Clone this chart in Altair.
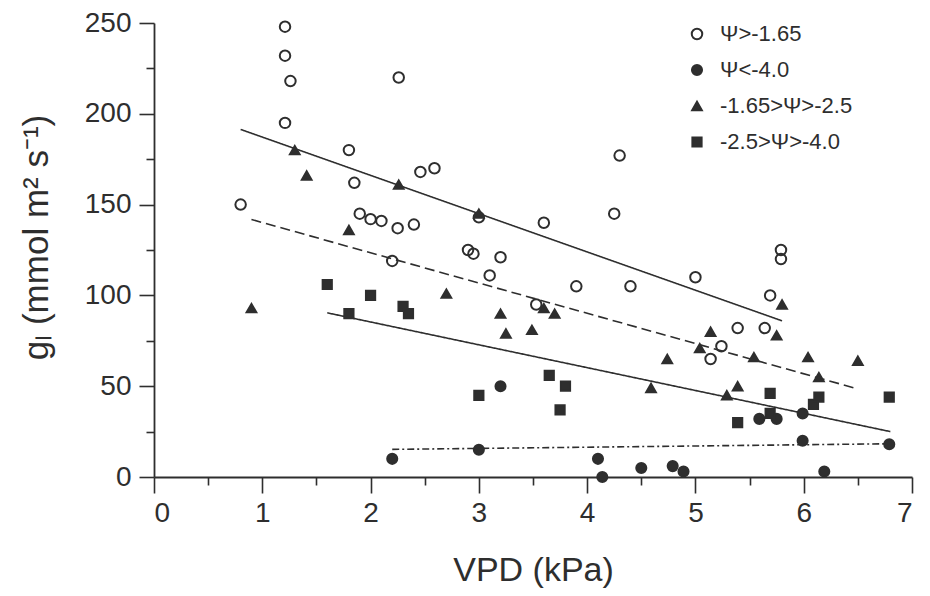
import altair as alt
import pandas as pd

# ---- data ----
groups = ["Ψ>-1.65", "Ψ<-4.0", "-1.65>Ψ>-2.5", "-2.5>Ψ>-4.0"]

open_x = [0.8, 1.21, 1.21, 1.26, 1.21, 1.8, 1.85, 1.9, 2.0, 2.1, 2.25, 2.4, 2.2, 2.26,
          2.46, 2.59, 2.9, 2.95, 3.0, 3.1, 3.2, 3.53, 3.6, 3.9, 4.25, 4.3, 4.4, 5.0,
          5.14, 5.24, 5.39, 5.64, 5.69, 5.79, 5.79]
open_y = [150, 248, 232, 218, 195, 180, 162, 145, 142, 141, 137, 139, 119, 220,
          168, 170, 125, 123, 143, 111, 121, 95, 140, 105, 145, 177, 105, 110,
          65, 72, 82, 82, 100, 125, 120]

fcirc_x = [2.2, 3.0, 3.2, 4.1, 4.14, 4.5, 4.79, 4.89, 5.59, 5.75, 5.99, 5.99, 6.19, 6.79]
fcirc_y = [10, 15, 50, 10, 0, 5, 6, 3, 32, 32, 35, 20, 3, 18]

tri_x = [0.9, 1.3, 1.41, 1.8, 2.26, 2.7, 3.0, 3.2, 3.25, 3.49, 3.6, 3.7, 4.59, 4.74,
         5.04, 5.14, 5.29, 5.39, 5.54, 5.75, 5.8, 6.04, 6.14, 6.5]
tri_y = [93, 180, 166, 136, 161, 101, 145, 90, 79, 81, 93, 90, 49, 65,
         71, 80, 45, 50, 66, 78, 95, 66, 55, 64]

sq_x = [1.6, 1.8, 2.0, 2.3, 2.35, 3.0, 3.65, 3.75, 3.8, 5.39, 5.69, 5.69, 6.09, 6.14, 6.79]
sq_y = [106, 90, 100, 94, 90, 45, 56, 37, 50, 30, 46, 35, 40, 44, 44]

# fitted lines (start and end points)
line_ids = ["open", "tri", "sq", "fcirc"]
line_x0 = [0.8, 0.9, 1.6, 2.2]
line_y0 = [191.4, 141.8, 90.4, 15.2]
line_x1 = [5.8, 6.5, 6.8, 6.8]
line_y1 = [86.0, 48.5, 25.0, 18.3]

x_major = [0, 1, 2, 3, 4, 5, 6, 7]
x_minor = [0.5, 1.5, 2.5, 3.5, 4.5, 5.5, 6.5]
y_major = [0, 50, 100, 150, 200, 250]
y_minor = [25, 75, 125, 175, 225]

# ---- tables ----
rows = []
for g, xs, ys in zip(groups, [open_x, fcirc_x, tri_x, sq_x], [open_y, fcirc_y, tri_y, sq_y]):
    for a, b in zip(xs, ys):
        rows.append({"vpd": a, "gl": b, "group": g})
pts = pd.DataFrame(rows)

lrows = []
for i, lid in enumerate(line_ids):
    lrows.append({"vpd": line_x0[i], "gl": line_y0[i], "line": lid})
    lrows.append({"vpd": line_x1[i], "gl": line_y1[i], "line": lid})
lines = pd.DataFrame(lrows)

INK = "#2e2e2e"
FONT = "Liberation Sans"

xscale = alt.Scale(domain=[0, 7], nice=False, zero=False)
yscale = alt.Scale(domain=[0, 250], nice=False, zero=False)

x_axis = alt.Axis(values=x_major, format="d", tickSize=16, tickWidth=1.6, domainWidth=1.8,
                  domainColor=INK, tickColor=INK, labelFontSize=28, labelFont=FONT,
                  labelColor=INK, labelPadding=6, title="VPD (kPa)", titleFontSize=34,
                  titleFont=FONT, titleFontWeight="normal", titleColor=INK, titlePadding=26,
                  grid=False, orient="bottom")
y_axis = alt.Axis(values=y_major, format="d", tickSize=15, tickWidth=1.6, domainWidth=1.8,
                  domainColor=INK, tickColor=INK, labelFontSize=28, labelFont=FONT,
                  labelColor=INK, labelPadding=8, title="gₗ (mmol m² s⁻¹)", titleFontSize=35,
                  titleFont=FONT, titleFontWeight="normal", titleColor=INK, titlePadding=30,
                  titleY=214, grid=False, orient="left")

line_layer = alt.Chart(lines).mark_line(strokeWidth=1.6, color=INK).encode(
    x=alt.X("vpd:Q", scale=xscale, axis=x_axis),
    y=alt.Y("gl:Q", scale=yscale, axis=y_axis),
    detail="line:N",
    strokeDash=alt.StrokeDash("line:N", scale=alt.Scale(domain=line_ids,
                              range=[[1, 0], [10, 5], [1, 0], [7, 3, 2, 3]]), legend=None),
)

point_layer = alt.Chart(pts).mark_point(filled=True, strokeWidth=2, stroke=INK, opacity=1).encode(
    x=alt.X("vpd:Q", scale=xscale, axis=None),
    y=alt.Y("gl:Q", scale=yscale, axis=None),
    shape=alt.Shape("group:N", scale=alt.Scale(domain=groups,
                    range=["circle", "circle", "triangle-up", "square"]), title=None),
    fill=alt.Fill("group:N", scale=alt.Scale(domain=groups,
                  range=["transparent", INK, INK, INK]), title=None),
    size=alt.Size("group:N", scale=alt.Scale(domain=groups, range=[110, 85, 110, 85]), title=None),
)

# minor ticks as extra axes sharing the scales
minor_x = alt.Chart(pts).mark_point(opacity=0).encode(
    x=alt.X("vpd:Q", scale=xscale, axis=alt.Axis(values=x_minor, labels=False, tickSize=8,
            tickWidth=1.6, tickColor=INK, domain=False, grid=False, title=None, orient="bottom")),
)
minor_y = alt.Chart(pts).mark_point(opacity=0).encode(
    y=alt.Y("gl:Q", scale=yscale, axis=alt.Axis(values=y_minor, labels=False, tickSize=8,
            tickWidth=1.6, tickColor=INK, domain=False, grid=False, title=None, orient="left")),
)

chart = alt.layer(line_layer, minor_x, minor_y, point_layer).resolve_axis(
    x="independent", y="independent"
).properties(
    width=758, height=454,
    autosize=alt.AutoSizeParams(type="none"),
    padding={"left": 146, "top": 15, "right": 8, "bottom": 111},
    background="white",
).configure_view(stroke=None).configure_legend(
    orient="none", legendX=532, legendY=0, labelFontSize=22, labelFont=FONT,
    labelColor=INK, rowPadding=14, symbolStrokeWidth=2, labelOffset=12, padding=0,
)

chart.save("out.html", embed_options={"renderer": "svg", "actions": False})
